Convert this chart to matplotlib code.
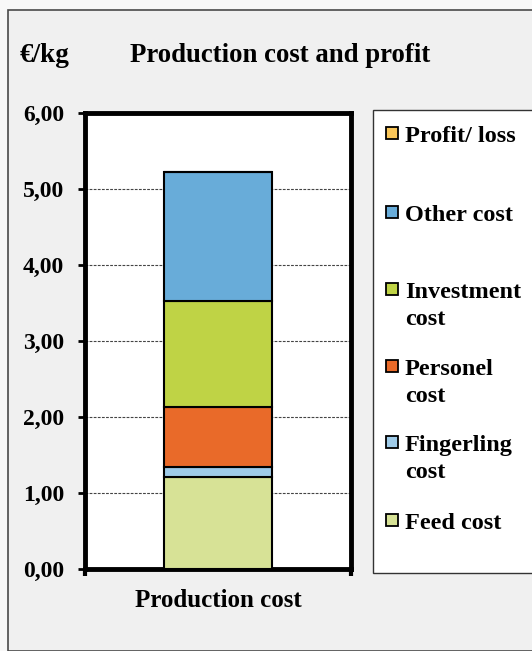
import matplotlib
matplotlib.use("Agg")
import matplotlib.pyplot as plt
from matplotlib.patches import Rectangle
import numpy as np

# Cost breakdown per kg of fish (€/kg), stacked bottom to top
category = ["Production cost"]
components = ["Feed cost", "Fingerling\ncost", "Personel\ncost",
              "Investment\ncost", "Other cost", "Profit/ loss"]
values = [1.21, 0.13, 0.79, 1.40, 1.69, 0.00]
colors = ["#d7e296", "#9fcbe8", "#e96a29", "#bfd345", "#68acd9", "#f9c659"]

yticks = [0, 1, 2, 3, 4, 5, 6]
ytick_labels = ["0,00", "1,00", "2,00", "3,00", "4,00", "5,00", "6,00"]

plt.rcParams["font.family"] = ["Liberation Serif", "DejaVu Serif"]
plt.rcParams["font.weight"] = "bold"

W, H = 532, 651
fig = plt.figure(figsize=(W / 100, H / 100), dpi=100)
fig.patch.set_facecolor("#f8f8f8")

# chart area frame
frame = Rectangle((8 / W, 0), 1.0, 1 - 10 / H, transform=fig.transFigure,
                  facecolor="#f0f0f0", edgecolor="#4a4a4a", linewidth=1.2,
                  zorder=-5)
fig.patches.append(frame)

ax = fig.add_axes([85 / W, 1 - 569 / H, (351 - 85) / W, (569 - 113) / H])
ax.set_zorder(2)
ax.set_facecolor("white")

bottom = 0.0
for val, col in zip(values, colors):
    ax.bar(0, val, width=0.406, bottom=bottom, color=col,
           edgecolor="black", linewidth=1.5, zorder=3)
    bottom += val

ax.set_xlim(-0.5, 0.5)
ax.set_ylim(0, 6)
ax.set_yticks(yticks)
ax.set_yticklabels(ytick_labels, fontsize=17, fontweight="bold")
ax.yaxis.grid(True, linestyle=(0, (2.5, 1.2)), color="#444444",
              linewidth=0.8, zorder=1)
ax.set_axisbelow(True)
ax.tick_params(axis="y", direction="out", length=5, width=2, pad=10)

# category label below the bar, ticks at the category boundaries
ax.set_xticks([-0.5, 0.5])
ax.set_xticklabels(["", ""])
ax.tick_params(axis="x", direction="out", length=5, width=3)
ax.text(0, -0.41, category[0], ha="center", va="center", fontsize=18,
        fontweight="bold", transform=ax.transData, clip_on=False)

for sp in ax.spines.values():
    sp.set_linewidth(3.5)
    sp.set_color("black")

# titles
fig.text(20 / W, 1 - 56 / H, "€/kg", fontsize=19.5, fontweight="bold",
         ha="left", va="center")
fig.text(130 / W, 1 - 56 / H, "Production cost and profit", fontsize=19.3,
         fontweight="bold", ha="left", va="center")

# legend box, entries listed top to bottom (reverse of stacking)
lg = Rectangle((373 / W, 1 - 573 / H), 1.0, (573 - 110) / H,
               transform=fig.transFigure, facecolor="white",
               edgecolor="#333333", linewidth=1.0, zorder=1)
fig.patches.append(lg)

entry_y = [133, 212, 289, 366, 442, 520]
for lab, col, yy in zip(components[::-1], colors[::-1], entry_y):
    sq = Rectangle((386 / W, 1 - (yy + 6) / H), 12 / W, 12 / H,
                   transform=fig.transFigure, facecolor=col,
                   edgecolor="black", linewidth=1.3, zorder=2)
    fig.patches.append(sq)
    fig.text(405 / W, 1 - (yy - 7) / H, lab, fontsize=17.5,
             fontweight="bold", ha="left", va="top", linespacing=1.38,
             zorder=3)

fig.savefig("out.png", dpi=100, facecolor=fig.get_facecolor())
